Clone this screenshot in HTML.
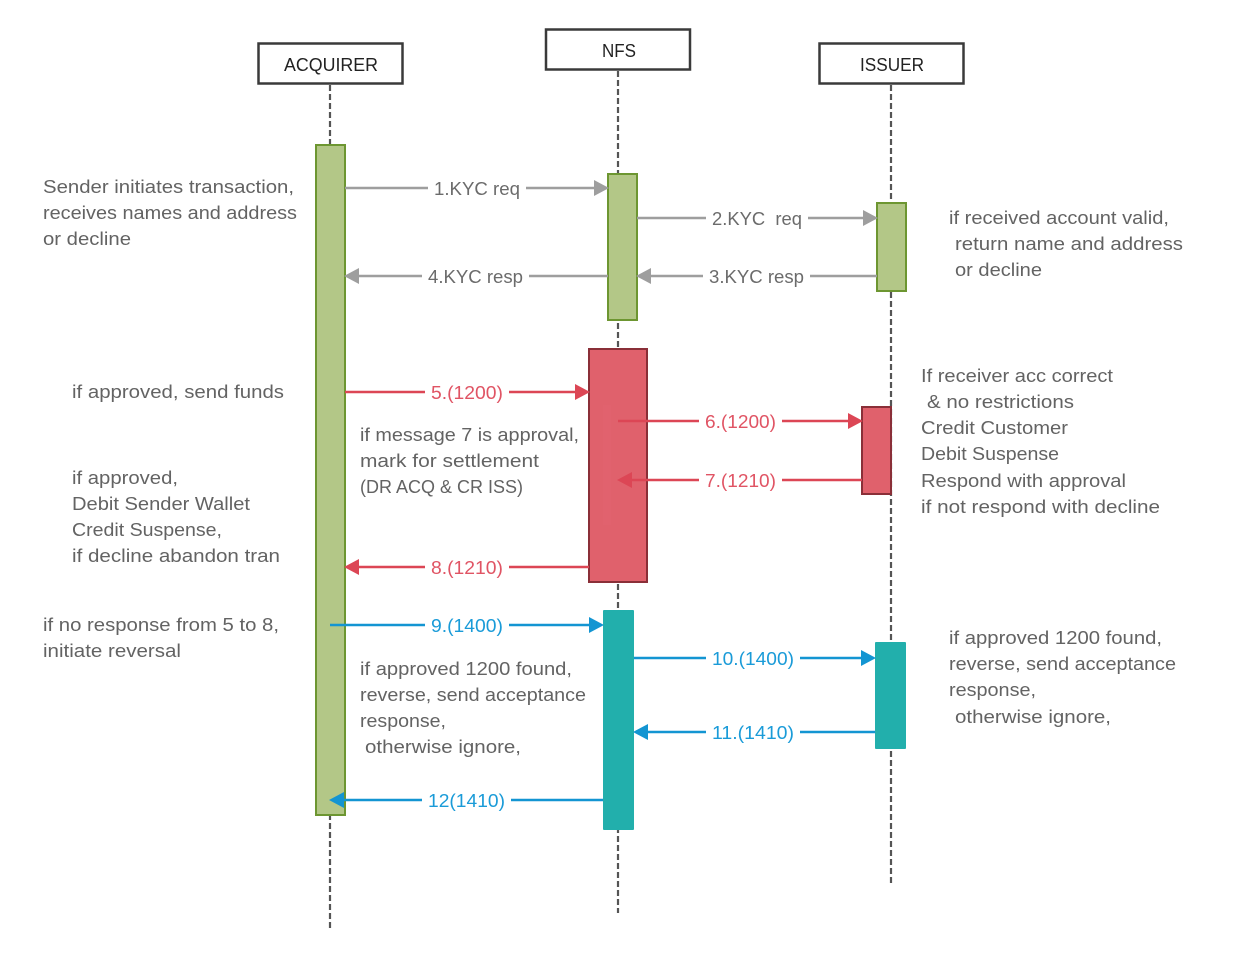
<!DOCTYPE html>
<html><head><meta charset="utf-8"><style>
html,body{margin:0;padding:0;background:#fff;}
svg{display:block;}
text{font-family:"Liberation Sans",sans-serif;font-size:18.5px;white-space:pre;}
.t{fill:#636363;}
.g{fill:#6b6b6b;}
.r{fill:#e05464;}
.b{fill:#1a9bd8;}
</style></head><body>
<svg width="1252" height="961" viewBox="0 0 1252 961" xmlns="http://www.w3.org/2000/svg">
<rect width="1252" height="961" fill="#fff"/>
<!-- lifelines -->
<g stroke="#555" stroke-width="2.2" stroke-dasharray="6,3" fill="none">
<line x1="330" y1="85" x2="330" y2="928"/>
<line x1="618" y1="71" x2="618" y2="913"/>
<line x1="891" y1="85" x2="891" y2="884"/>
</g>
<!-- participant boxes -->
<g fill="#fff" stroke="#3a3a3a" stroke-width="2.5">
<rect x="258.5" y="43.5" width="144" height="40"/>
<rect x="546" y="29.5" width="144" height="40"/>
<rect x="819.5" y="43.5" width="144" height="40"/>
</g>
<text x="284" y="71" textLength="94" lengthAdjust="spacingAndGlyphs" fill="#222">ACQUIRER</text>
<text x="602" y="57" textLength="34" lengthAdjust="spacingAndGlyphs" fill="#222">NFS</text>
<text x="860" y="71" textLength="64" lengthAdjust="spacingAndGlyphs" fill="#222">ISSUER</text>
<!-- activations -->
<g fill="#b3c787" stroke="#6d9631" stroke-width="2">
<rect x="316" y="145" width="29" height="670"/>
<rect x="608" y="174" width="29" height="146"/>
<rect x="877" y="203" width="29" height="88"/>
</g>
<g fill="#e0616c" stroke="#8a2f38" stroke-width="2">
<rect x="589" y="349" width="58" height="233"/>
<rect x="862" y="407" width="29" height="87"/>
</g>
<rect x="603" y="405" width="8" height="120" fill="#e56873" opacity="0.3"/>
<g fill="#22afac">
<rect x="603" y="610" width="31" height="220" rx="1"/>
<rect x="875" y="642" width="31" height="107" rx="1"/>
</g>
<!-- gray arrows -->
<g stroke="#9e9e9e" stroke-width="2.5">
<line x1="345" y1="188" x2="596" y2="188"/>
<line x1="637" y1="218" x2="865" y2="218"/>
<line x1="877" y1="276" x2="649" y2="276"/>
<line x1="608" y1="276" x2="357" y2="276"/>
</g>
<g fill="#9e9e9e">
<polygon points="609,188 594,180 594,196"/>
<polygon points="878,218 863,210 863,226"/>
<polygon points="636,276 651,268 651,284"/>
<polygon points="344,276 359,268 359,284"/>
</g>
<!-- red arrows -->
<g stroke="#dc4655" stroke-width="2.5">
<line x1="345" y1="392" x2="577" y2="392"/>
<line x1="618" y1="421" x2="850" y2="421"/>
<line x1="862" y1="480" x2="630" y2="480"/>
<line x1="589" y1="567" x2="357" y2="567"/>
</g>
<g fill="#dc4655">
<polygon points="590,392 575,384 575,400"/>
<polygon points="863,421 848,413 848,429"/>
<polygon points="617,480 632,472 632,488"/>
<polygon points="344,567 359,559 359,575"/>
</g>
<!-- blue arrows -->
<g stroke="#1395d2" stroke-width="2.5">
<line x1="330" y1="625" x2="591" y2="625"/>
<line x1="634" y1="658" x2="863" y2="658"/>
<line x1="875" y1="732" x2="646" y2="732"/>
<line x1="603" y1="800" x2="342" y2="800"/>
</g>
<g fill="#1395d2">
<polygon points="604,625 589,617 589,633"/>
<polygon points="876,658 861,650 861,666"/>
<polygon points="633,732 648,724 648,740"/>
<polygon points="329,800 344,792 344,808"/>
</g>
<!-- label backgrounds -->
<g fill="#fff">
<rect x="428" y="178" width="98" height="20"/>
<rect x="706" y="208" width="102" height="20"/>
<rect x="703" y="266" width="107" height="20"/>
<rect x="422" y="266" width="107" height="20"/>
<rect x="425" y="382" width="84" height="20"/>
<rect x="699" y="411" width="83" height="20"/>
<rect x="699" y="470" width="83" height="20"/>
<rect x="425" y="557" width="84" height="20"/>
<rect x="425" y="615" width="84" height="20"/>
<rect x="706" y="648" width="94" height="20"/>
<rect x="706" y="722" width="94" height="20"/>
<rect x="422" y="790" width="89" height="20"/>
</g>
<!-- labels -->
<text class="g" x="434" y="195" textLength="86" lengthAdjust="spacingAndGlyphs">1.KYC req</text>
<text class="g" x="712" y="225" textLength="90" lengthAdjust="spacingAndGlyphs">2.KYC&#160; req</text>
<text class="g" x="709" y="283" textLength="95" lengthAdjust="spacingAndGlyphs">3.KYC resp</text>
<text class="g" x="428" y="283" textLength="95" lengthAdjust="spacingAndGlyphs">4.KYC resp</text>
<text class="r" x="431" y="399" textLength="72" lengthAdjust="spacingAndGlyphs">5.(1200)</text>
<text class="r" x="705" y="428" textLength="71" lengthAdjust="spacingAndGlyphs">6.(1200)</text>
<text class="r" x="705" y="487" textLength="71" lengthAdjust="spacingAndGlyphs">7.(1210)</text>
<text class="r" x="431" y="574" textLength="72" lengthAdjust="spacingAndGlyphs">8.(1210)</text>
<text class="b" x="431" y="632" textLength="72" lengthAdjust="spacingAndGlyphs">9.(1400)</text>
<text class="b" x="712" y="665" textLength="82" lengthAdjust="spacingAndGlyphs">10.(1400)</text>
<text class="b" x="712" y="739" textLength="82" lengthAdjust="spacingAndGlyphs">11.(1410)</text>
<text class="b" x="428" y="807" textLength="77" lengthAdjust="spacingAndGlyphs">12(1410)</text>
<!-- notes left -->
<text class="t" x="43" y="193" textLength="251" lengthAdjust="spacingAndGlyphs">Sender initiates transaction,</text>
<text class="t" x="43" y="219" textLength="254" lengthAdjust="spacingAndGlyphs">receives names and address</text>
<text class="t" x="43" y="245" textLength="88" lengthAdjust="spacingAndGlyphs">or decline</text>
<text class="t" x="72" y="398" textLength="212" lengthAdjust="spacingAndGlyphs">if approved, send funds</text>
<text class="t" x="72" y="484" textLength="106" lengthAdjust="spacingAndGlyphs">if approved,</text>
<text class="t" x="72" y="510" textLength="178" lengthAdjust="spacingAndGlyphs">Debit Sender Wallet</text>
<text class="t" x="72" y="536" textLength="150" lengthAdjust="spacingAndGlyphs">Credit Suspense,</text>
<text class="t" x="72" y="562" textLength="208" lengthAdjust="spacingAndGlyphs">if decline abandon tran</text>
<text class="t" x="43" y="631" textLength="236" lengthAdjust="spacingAndGlyphs">if no response from 5 to 8,</text>
<text class="t" x="43" y="657" textLength="138" lengthAdjust="spacingAndGlyphs">initiate reversal</text>
<!-- notes middle -->
<text class="t" x="360" y="441" textLength="219" lengthAdjust="spacingAndGlyphs">if message 7 is approval,</text>
<text class="t" x="360" y="467" textLength="179" lengthAdjust="spacingAndGlyphs">mark for settlement</text>
<text class="t" x="360" y="493" textLength="163" lengthAdjust="spacingAndGlyphs">(DR ACQ &amp; CR ISS)</text>
<text class="t" x="360" y="675" textLength="212" lengthAdjust="spacingAndGlyphs">if approved 1200 found,</text>
<text class="t" x="360" y="701" textLength="226" lengthAdjust="spacingAndGlyphs">reverse, send acceptance</text>
<text class="t" x="360" y="727" textLength="86" lengthAdjust="spacingAndGlyphs">response,</text>
<text class="t" x="365" y="753" textLength="156" lengthAdjust="spacingAndGlyphs">otherwise ignore,</text>
<!-- notes right -->
<text class="t" x="949" y="224" textLength="220" lengthAdjust="spacingAndGlyphs">if received account valid,</text>
<text class="t" x="955" y="250" textLength="228" lengthAdjust="spacingAndGlyphs">return name and address</text>
<text class="t" x="955" y="276" textLength="87" lengthAdjust="spacingAndGlyphs">or decline</text>
<text class="t" x="921" y="382" textLength="192" lengthAdjust="spacingAndGlyphs">If receiver acc correct</text>
<text class="t" x="927" y="408" textLength="147" lengthAdjust="spacingAndGlyphs">&amp; no restrictions</text>
<text class="t" x="921" y="434" textLength="147" lengthAdjust="spacingAndGlyphs">Credit Customer</text>
<text class="t" x="921" y="460" textLength="138" lengthAdjust="spacingAndGlyphs">Debit Suspense</text>
<text class="t" x="921" y="487" textLength="205" lengthAdjust="spacingAndGlyphs">Respond with approval</text>
<text class="t" x="921" y="513" textLength="239" lengthAdjust="spacingAndGlyphs">if not respond with decline</text>
<text class="t" x="949" y="644" textLength="213" lengthAdjust="spacingAndGlyphs">if approved 1200 found,</text>
<text class="t" x="949" y="670" textLength="227" lengthAdjust="spacingAndGlyphs">reverse, send acceptance</text>
<text class="t" x="949" y="696" textLength="87" lengthAdjust="spacingAndGlyphs">response,</text>
<text class="t" x="955" y="723" textLength="156" lengthAdjust="spacingAndGlyphs">otherwise ignore,</text>
</svg>
</body></html>
